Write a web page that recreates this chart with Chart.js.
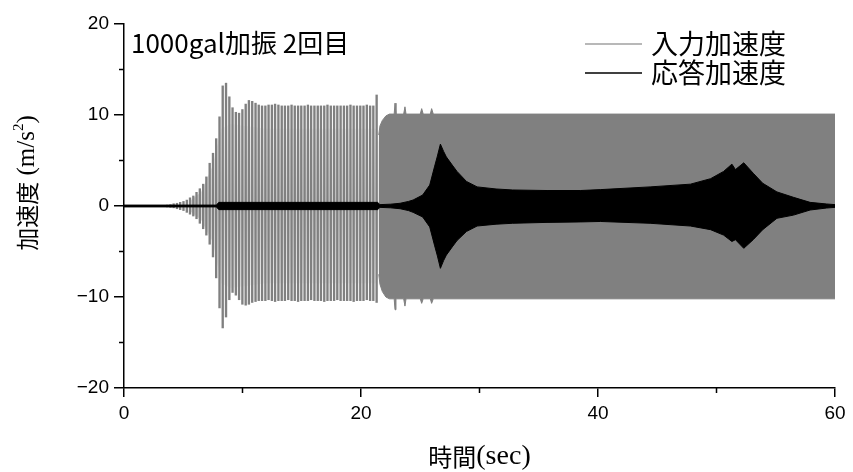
<!DOCTYPE html>
<html>
<head>
<meta charset="utf-8">
<script src="https://cdn.jsdelivr.net/npm/chart.js@4.4.1/dist/chart.umd.min.js"></script>
<style>
  html, body { margin: 0; padding: 0; background: #fff; }
  #wrap { width: 853px; height: 472px; position: relative; }
</style>
</head>
<body>
<div id="wrap"><canvas id="accChart"></canvas></div>
<script>
// input acceleration (gray) - single peaks before the sweep gets dense
const spikeTime = [
  3.64, 3.92, 4.19, 4.47, 4.74, 5.02, 5.30, 5.57, 5.85, 6.12,
  6.40, 6.68, 6.95, 7.23, 7.51, 7.78, 8.06, 8.33, 8.61, 8.89,
  9.16, 9.44, 9.71, 9.99, 10.27, 10.54, 10.82, 11.10, 11.37, 11.65,
  11.93, 12.20, 12.48, 12.75, 13.03, 13.31, 13.58, 13.86, 14.14, 14.41,
  14.69, 14.96, 15.24, 15.52, 15.79, 16.07, 16.35, 16.62, 16.90, 17.17,
  17.45, 17.73, 18.00, 18.28, 18.56, 18.83, 19.11, 19.38, 19.66, 19.94,
  20.21, 20.49, 20.77, 21.04, 21.32
];
const spikeTop = [
  0.1, 0.15, 0.25, 0.3, 0.4, 0.5, 0.65, 0.9, 1.1, 1.5,
  1.9, 2.4, 3.2, 4.7, 5.8, 7.4, 9.8, 13.2, 13.5, 12.0,
  10.8, 10.3, 10.2, 10.6, 11.2, 11.6, 11.5, 11.3, 11.1, 11.0,
  11.0, 11.1, 11.1, 11.2, 11.1, 11.0, 11.0, 11.0, 11.1, 11.0,
  11.0, 11.0, 11.0, 11.1, 11.0, 11.0, 11.0, 11.0, 11.0, 11.1,
  11.0, 11.0, 11.0, 11.0, 11.0, 11.0, 11.1, 11.0, 11.0, 11.0,
  11.0, 11.1, 11.0, 11.0, 12.2
];
const spikeBottom = [
  -0.1, -0.15, -0.2, -0.3, -0.4, -0.5, -0.7, -0.9, -1.1, -1.4,
  -1.9, -2.5, -3.2, -4.2, -5.6, -7.9, -11.2, -13.4, -12.2, -10.3,
  -9.5, -9.8, -10.3, -10.8, -10.9, -10.8, -10.6, -10.5, -10.4, -10.4,
  -10.4, -10.3, -10.4, -10.5, -10.4, -10.4, -10.4, -10.3, -10.4, -10.4,
  -10.5, -10.4, -10.4, -10.4, -10.3, -10.4, -10.4, -10.4, -10.5, -10.4,
  -10.4, -10.4, -10.3, -10.4, -10.4, -10.4, -10.4, -10.5, -10.4, -10.4,
  -10.4, -10.3, -10.4, -10.4, -10.6
];

// faint gray haze between the single peaks
const hazeTime = [5.5, 6.5, 7.5, 8.2, 9.0, 12.0, 21.3, 21.5];
const hazeTop = [0.5, 1.5, 4.5, 8.5, 9.0, 8.5, 8.5, 7.0];
const hazeBottom = [-0.5, -1.5, -4.0, -8.5, -9.0, -8.5, -8.5, -7.0];

// input acceleration (gray) - dense band after ~21.5 s
const bandTime = [21.5, 21.6, 21.8, 22.1, 22.4, 22.8, 22.87, 22.95, 23.6, 23.71, 23.8, 25.0, 25.12, 25.25, 25.85, 25.96, 26.1, 60];
const bandTop = [7.8, 8.8, 9.4, 9.9, 10.1, 10.1, 11.3, 10.1, 10.1, 10.9, 10.1, 10.1, 10.7, 10.1, 10.1, 10.7, 10.1, 10.1];
const bandBottom = [-7.5, -8.6, -9.4, -10.0, -10.2, -10.2, -11.4, -10.2, -10.2, -11.0, -10.2, -10.2, -10.7, -10.2, -10.2, -10.7, -10.2, -10.2];

// response acceleration (black) envelope
const respTime = [0, 7.8, 8.0, 21.4, 21.6, 22.5, 23.3, 24.0, 24.4, 25.2, 25.8, 26.2, 26.45, 26.7, 26.97, 27.2, 27.7, 28.1, 28.9, 29.8,
  31.4, 32.8, 35.7, 38.5, 40.2, 44.4, 47.8, 49.5, 50.6, 51.3, 51.6, 52.3, 53.1, 53.9, 55.1, 56.5, 57.9, 59.3, 60];
const respUpper = [0.1, 0.1, 0.4, 0.4, 0.15, 0.2, 0.3, 0.5, 0.66, 1.2, 2.3, 4.3, 5.5, 6.8, 6.0, 5.4, 4.5, 3.8, 2.7, 2.1,
  1.87, 1.76, 1.7, 1.7, 1.8, 2.1, 2.4, 3.0, 3.8, 4.6, 4.0, 4.75, 3.6, 2.5, 1.55, 0.95, 0.4, 0.22, 0.15];
const respLower = [-0.1, -0.1, -0.4, -0.4, -0.15, -0.2, -0.3, -0.5, -0.7, -1.2, -2.3, -4.3, -5.5, -6.85, -6.0, -5.4, -4.5, -3.8, -2.8, -2.2,
  -2.0, -1.9, -1.8, -1.75, -1.7, -1.9, -2.2, -2.6, -3.2, -3.9, -3.7, -4.65, -3.7, -2.6, -1.35, -1.0, -0.44, -0.22, -0.15];

const xTicks = [0, 20, 40, 60];
const yTicks = [-20, -10, 0, 10, 20];
const xMinor = [10, 30, 50];
const yMinor = [-15, -5, 5, 15];

const inputLabel = "入力加速度";
const respLabel = "応答加速度";
const noteText = "1000gal加振 2回目";

const GRAY = "#808080";
const CJK = '"Noto Sans CJK JP"';
const SERIF = '"Liberation Serif"';

const pts = (xs, ys) => xs.map((x, i) => ({ x: x, y: ys[i] }));

// haze gets lighter away from zero
function hazeFill(context) {
  const chart = context.chart;
  const area = chart.chartArea;
  if (!area) return "#e4e4e4";
  const y = chart.scales.y;
  const top = y.getPixelForValue(9);
  const bottom = y.getPixelForValue(-9);
  const g = chart.ctx.createLinearGradient(0, top, 0, bottom);
  g.addColorStop(0, "#f6f6f6");
  g.addColorStop(0.5, "#d6d6d6");
  g.addColorStop(1, "#f6f6f6");
  return g;
}

// draws text pieces with different fonts side by side, centred on x
function drawRuns(ctx, runs, x, y) {
  let total = 0;
  for (const r of runs) {
    ctx.font = r.font;
    total += ctx.measureText(r.text).width;
  }
  let cx = x - total / 2;
  for (const r of runs) {
    ctx.font = r.font;
    ctx.fillText(r.text, cx, y + (r.dy || 0));
    cx += ctx.measureText(r.text).width;
  }
}

const decorations = {
  id: "decorations",
  afterDraw(chart) {
    const { ctx, chartArea, scales } = chart;
    ctx.save();

    // minor ticks
    ctx.strokeStyle = "#000";
    ctx.lineWidth = 1.5;
    ctx.beginPath();
    for (const v of yMinor) {
      const y = scales.y.getPixelForValue(v);
      ctx.moveTo(chartArea.left - 5, y);
      ctx.lineTo(chartArea.left, y);
    }
    for (const v of xMinor) {
      const x = scales.x.getPixelForValue(v);
      ctx.moveTo(x, chartArea.bottom);
      ctx.lineTo(x, chartArea.bottom + 5);
    }
    ctx.stroke();

    ctx.fillStyle = "#000";
    ctx.textBaseline = "middle";
    ctx.textAlign = "left";

    // note in the top left
    ctx.font = "26px " + CJK;
    ctx.fillText(noteText, chartArea.left + 7, 43);

    // legend
    ctx.lineWidth = 1.5;
    ctx.strokeStyle = "#a0a0a0";
    ctx.beginPath();
    ctx.moveTo(585, 44);
    ctx.lineTo(642, 44);
    ctx.stroke();
    ctx.strokeStyle = "#000";
    ctx.beginPath();
    ctx.moveTo(585, 73);
    ctx.lineTo(642, 73);
    ctx.stroke();
    ctx.font = "27px " + CJK;
    ctx.fillText(inputLabel, 651, 44);
    ctx.fillText(respLabel, 651, 73);

    // x axis title
    drawRuns(ctx, [
      { text: "時間", font: "24px " + CJK },
      { text: "(sec)", font: "28px " + SERIF }
    ], (chartArea.left + chartArea.right) / 2, 457);

    // y axis title
    ctx.translate(27, 183);
    ctx.rotate(-Math.PI / 2);
    drawRuns(ctx, [
      { text: "加速度", font: "23px " + CJK },
      { text: " (m/s", font: "25px " + SERIF },
      { text: "2", font: "15px " + SERIF, dy: -8 },
      { text: ")", font: "25px " + SERIF }
    ], 0, 0);

    ctx.restore();
  }
};

const lineSet = (label, xs, ys, color, order) => ({
  label: label,
  data: pts(xs, ys),
  borderColor: color,
  backgroundColor: color,
  borderWidth: 1,
  pointRadius: 0,
  fill: "origin",
  order: order,
});

const hazeSet = (ys) => Object.assign(lineSet(inputLabel, hazeTime, ys, hazeFill, 2), { borderWidth: 0 });

const ctx = document.getElementById("accChart").getContext("2d");
new Chart(ctx, {
  type: "line",
  data: {
    datasets: [
      lineSet(respLabel, respTime, respUpper, "#000", 0),
      lineSet(respLabel, respTime, respLower, "#000", 0),
      {
        type: "bar",
        label: inputLabel,
        data: spikeTime.map((t, i) => ({ x: t, y: [spikeBottom[i], spikeTop[i]] })),
        backgroundColor: GRAY,
        borderWidth: 0,
        barThickness: 1.7,
        grouped: false,
        order: 1,
      },
      lineSet(inputLabel, bandTime, bandTop, GRAY, 1),
      lineSet(inputLabel, bandTime, bandBottom, GRAY, 1),
      hazeSet(hazeTop),
      hazeSet(hazeBottom),
    ],
  },
  options: {
    responsive: true,
    maintainAspectRatio: false,
    animation: false,
    layout: { padding: { left: 0, top: 24, right: 18, bottom: 0 } },
    plugins: {
      legend: { display: false },
      tooltip: { enabled: false },
    },
    scales: {
      x: {
        type: "linear",
        min: 0,
        max: 60,
        offset: false,
        afterBuildTicks: (scale) => { scale.ticks = xTicks.map((v) => ({ value: v })); },
        afterFit: (scale) => { scale.height = 84; },
        border: { display: true, color: "#000", width: 1.5 },
        grid: { drawOnChartArea: false, offset: false, color: "#000", lineWidth: 1.5, tickLength: 9 },
        ticks: {
          color: "#000",
          padding: 5,
          maxRotation: 0,
          font: { family: "Liberation Sans", size: 19 },
        },
      },
      y: {
        min: -20,
        max: 20,
        afterBuildTicks: (scale) => { scale.ticks = yTicks.map((v) => ({ value: v })); },
        afterFit: (scale) => { scale.width = 124; },
        border: { display: true, color: "#000", width: 1.5 },
        grid: { drawOnChartArea: false, color: "#000", lineWidth: 1.5, tickLength: 10 },
        ticks: {
          color: "#000",
          padding: 5,
          font: { family: "Liberation Sans", size: 19 },
          callback: (v) => String(v).replace("-", "\u2212"),
        },
      },
    },
  },
  plugins: [decorations],
});
</script>
</body>
</html>
